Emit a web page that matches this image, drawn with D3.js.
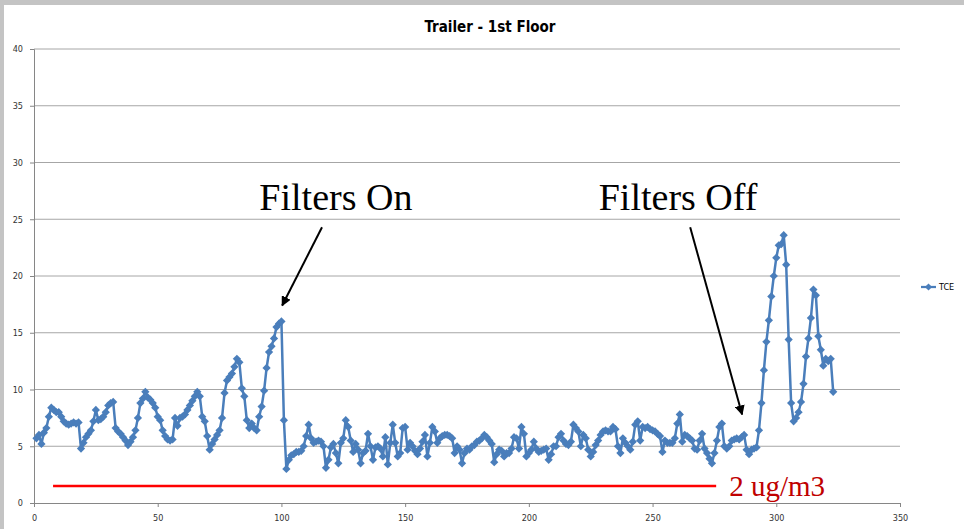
<!DOCTYPE html>
<html>
<head>
<meta charset="utf-8">
<script src="https://cdn.jsdelivr.net/npm/d3@7"></script>
<style>
    body{ margin:0; background:#fff; }
    svg{ display:block; }
</style>
</head>
<body>
<div class="chart"></div>
<script>

//TCE readings, one per sample (x = sample number starting at 1)
let tce = [
    5.7, 6.0, 5.2, 6.2, 6.6, 7.6, 8.4, 8.2, 8.0, 8.0,
    7.6, 7.2, 7.0, 6.9, 7.0, 7.1, 7.0, 7.1, 4.8, 5.3,
    5.8, 6.1, 6.4, 7.2, 8.2, 7.3, 7.4, 7.6, 8.0, 8.6,
    8.8, 8.9, 6.6, 6.3, 6.1, 5.8, 5.5, 5.1, 5.4, 5.8,
    6.4, 7.5, 8.8, 9.2, 9.8, 9.3, 9.1, 8.8, 8.4, 7.6,
    7.3, 6.4, 5.9, 5.6, 5.5, 5.6, 7.5, 6.8, 7.5, 7.6,
    7.8, 8.2, 8.6, 9.0, 9.4, 9.8, 9.4, 7.6, 7.2, 5.9,
    4.7, 5.2, 5.6, 6.0, 6.4, 7.5, 9.7, 10.8, 11.1, 11.4,
    12.0, 12.7, 12.4, 10.1, 9.4, 7.3, 6.6, 7.0, 6.6, 6.4,
    7.6, 8.5, 9.9, 11.9, 13.3, 13.8, 14.5, 15.5, 15.8, 16.0,
    7.3, 3.0, 3.8, 4.2, 4.3, 4.5, 4.5, 4.6, 5.0, 5.9,
    6.9, 5.7, 5.3, 5.4, 5.5, 5.4, 5.0, 3.1, 3.8, 4.9,
    5.2, 4.4, 3.5, 5.3, 5.7, 7.3, 6.7, 5.5, 4.5, 5.2,
    4.7, 3.5, 4.4, 4.6, 6.1, 5.0, 3.8, 4.9, 5.0, 4.8,
    4.1, 5.8, 3.4, 5.3, 6.9, 5.3, 4.1, 4.4, 6.6, 6.7,
    4.7, 5.3, 5.0, 4.6, 4.3, 4.8, 5.4, 6.0, 4.1, 5.3,
    6.7, 6.3, 5.3, 5.7, 5.9, 6.0, 6.0, 5.9, 5.7, 4.4,
    5.0, 4.7, 3.5, 4.4, 4.8, 4.7, 5.0, 5.1, 5.4, 5.5,
    5.7, 6.0, 5.8, 5.5, 5.2, 3.6, 4.3, 4.7, 4.6, 4.1,
    4.4, 4.4, 4.8, 5.8, 5.7, 4.8, 6.7, 6.1, 4.1, 4.4,
    4.7, 5.4, 4.8, 4.5, 4.6, 4.7, 4.8, 3.8, 4.3, 5.0,
    5.0, 5.8, 6.1, 5.5, 5.2, 5.1, 5.4, 6.9, 6.6, 6.3,
    5.0, 6.0, 5.7, 4.7, 4.1, 4.5, 5.1, 5.5, 6.0, 6.3,
    6.4, 6.3, 6.3, 6.7, 6.5, 5.0, 4.4, 5.7, 5.3, 5.0,
    4.7, 5.4, 6.9, 7.2, 5.5, 6.7, 6.6, 6.7, 6.5, 6.4,
    6.3, 6.1, 5.9, 4.5, 5.5, 5.3, 5.3, 5.3, 5.7, 7.0,
    7.8, 5.4, 6.0, 5.9, 5.7, 5.5, 4.8, 4.7, 5.5, 6.1,
    4.8, 4.4, 3.9, 3.5, 4.4, 5.5, 6.7, 7.0, 5.0, 4.8,
    5.0, 5.5, 5.6, 5.7, 5.6, 5.8, 6.0, 4.7, 4.3, 4.7,
    4.8, 4.9, 6.4, 8.8, 11.7, 14.2, 16.1, 18.2, 20.0, 21.6,
    22.7, 22.8, 23.6, 21.0, 14.4, 8.8, 7.2, 7.5, 8.0, 8.9,
    10.5, 12.9, 14.5, 16.3, 18.8, 18.3, 14.7, 13.5, 12.1, 12.7,
    12.5, 12.7, 9.8
];

//axis ticks
let xTicks = [0, 50, 100, 150, 200, 250, 300, 350];
let yTicks = [0, 5, 10, 15, 20, 25, 30, 35, 40];

let title = "Trailer - 1st Floor";
let seriesName = "TCE";

//annotations, in data units
let noteLabels = ["Filters On", "Filters Off"];
let noteTextX = [122, 260.3];
let noteTextY = [25.8, 25.8];
let arrowFrom = [[116.4, 24.3], [265.2, 24.3]];
let arrowTo = [[100.3, 17.4], [286.2, 7.8]];

//reference line
let refLabel = "2 ug/m3";
let refX = [7.7, 275.7];
let refY = 1.5;

let width = 964, height = 529;

let svg = d3.select(".chart").append("svg")
    .attr("width", width)
    .attr("height", height);

//gray window edge on top and left
svg.append("rect").attr("x", 0).attr("y", 0).attr("width", width).attr("height", 5).attr("fill", "#c4c4c4");
svg.append("rect").attr("x", 0).attr("y", 0).attr("width", 4).attr("height", height).attr("fill", "#c4c4c4");

let xScale = d3.scaleLinear().domain([0, 350]).range([34, 900]);
let yScale = d3.scaleLinear().domain([0, 40]).range([503, 49]);

let labelFont = "'Liberation Sans Narrow', 'DejaVu Sans Condensed', Arial, sans-serif";

//gridlines
svg.append("g")
    .selectAll("line")
    .data(yTicks.slice(1))
    .join("line")
    .attr("x1", xScale(0))
    .attr("x2", xScale(350))
    .attr("y1", d => yScale(d))
    .attr("y2", d => yScale(d))
    .attr("stroke", "#a6a6a6")
    .attr("stroke-width", 1);

//y axis
let yAxis = d3.axisLeft(yScale).tickValues(yTicks).tickSize(4).tickPadding(7);
let gy = svg.append("g")
    .attr("transform", "translate(" + xScale(0) + ",0)")
    .call(yAxis);
gy.select(".domain").attr("stroke", "#868686");
gy.selectAll(".tick line").attr("stroke", "#868686");
gy.selectAll("text").attr("font-family", labelFont).attr("font-size", 9).attr("fill", "#333");

//x axis
let xAxis = d3.axisBottom(xScale).tickValues(xTicks).tickSize(4).tickPadding(8);
let gx = svg.append("g")
    .attr("transform", "translate(0," + yScale(0) + ")")
    .call(xAxis);
gx.select(".domain").attr("stroke", "#868686");
gx.selectAll(".tick line").attr("stroke", "#868686");
gx.selectAll("text").attr("font-family", labelFont).attr("font-size", 9).attr("fill", "#333");

//title
svg.append("text")
    .attr("x", 490)
    .attr("y", 32)
    .attr("text-anchor", "middle")
    .attr("font-family", labelFont)
    .attr("font-weight", "bold")
    .attr("font-size", 15)
    .text(title);

//series line
let points = tce.map((v, i) => [i + 1, v]);
let lineGen = d3.line()
    .x(d => xScale(d[0]))
    .y(d => yScale(d[1]));

let blue = "#4a7ebb";
svg.append("path")
    .datum(points)
    .attr("d", lineGen)
    .attr("fill", "none")
    .attr("stroke", blue)
    .attr("stroke-width", 2.5)
    .attr("stroke-linejoin", "round");

//diamond markers
let diamond = d3.symbol().type(d3.symbolSquare).size(34);
svg.append("g")
    .selectAll("path")
    .data(points)
    .join("path")
    .attr("d", diamond)
    .attr("transform", d => "translate(" + xScale(d[0]) + "," + yScale(d[1]) + ") rotate(45)")
    .attr("fill", blue);

//legend
let lg = svg.append("g").attr("transform", "translate(921,287)");
lg.append("line").attr("x1", 0).attr("x2", 15).attr("stroke", blue).attr("stroke-width", 2.25);
lg.append("path").attr("d", d3.symbol().type(d3.symbolSquare).size(26)).attr("transform", "translate(7.5,0) rotate(45)").attr("fill", blue);
lg.append("text")
    .attr("x", 18)
    .attr("y", 3)
    .attr("font-family", labelFont)
    .attr("font-size", 9)
    .text(seriesName);

//reference line and its label
svg.append("line")
    .attr("x1", xScale(refX[0]))
    .attr("x2", xScale(refX[1]))
    .attr("y1", yScale(refY))
    .attr("y2", yScale(refY))
    .attr("stroke", "#ff0000")
    .attr("stroke-width", 2.5);
svg.append("text")
    .attr("x", xScale(refX[1]) + 13)
    .attr("y", yScale(refY) + 10)
    .attr("font-family", "'Liberation Serif', 'Times New Roman', serif")
    .attr("font-size", 29)
    .attr("fill", "#c00000")
    .text(refLabel);

//arrows
svg.append("defs").append("marker")
    .attr("id", "head")
    .attr("viewBox", "0 0 10 10")
    .attr("refX", 9)
    .attr("refY", 5)
    .attr("markerWidth", 5)
    .attr("markerHeight", 5)
    .attr("orient", "auto")
    .append("path")
    .attr("d", "M0,0 L10,5 L0,10 Z")
    .attr("fill", "#000");

for(let i = 0; i < noteLabels.length; i++){
    svg.append("text")
        .attr("x", xScale(noteTextX[i]))
        .attr("y", yScale(noteTextY[i]))
        .attr("text-anchor", "middle")
        .attr("font-family", "'Liberation Serif', 'Times New Roman', serif")
        .attr("font-size", 38)
        .attr("fill", "#000")
        .text(noteLabels[i]);
    svg.append("line")
        .attr("x1", xScale(arrowFrom[i][0]))
        .attr("y1", yScale(arrowFrom[i][1]))
        .attr("x2", xScale(arrowTo[i][0]))
        .attr("y2", yScale(arrowTo[i][1]))
        .attr("stroke", "#000")
        .attr("stroke-width", 2)
        .attr("marker-end", "url(#head)");
}

</script>
</body>
</html>
